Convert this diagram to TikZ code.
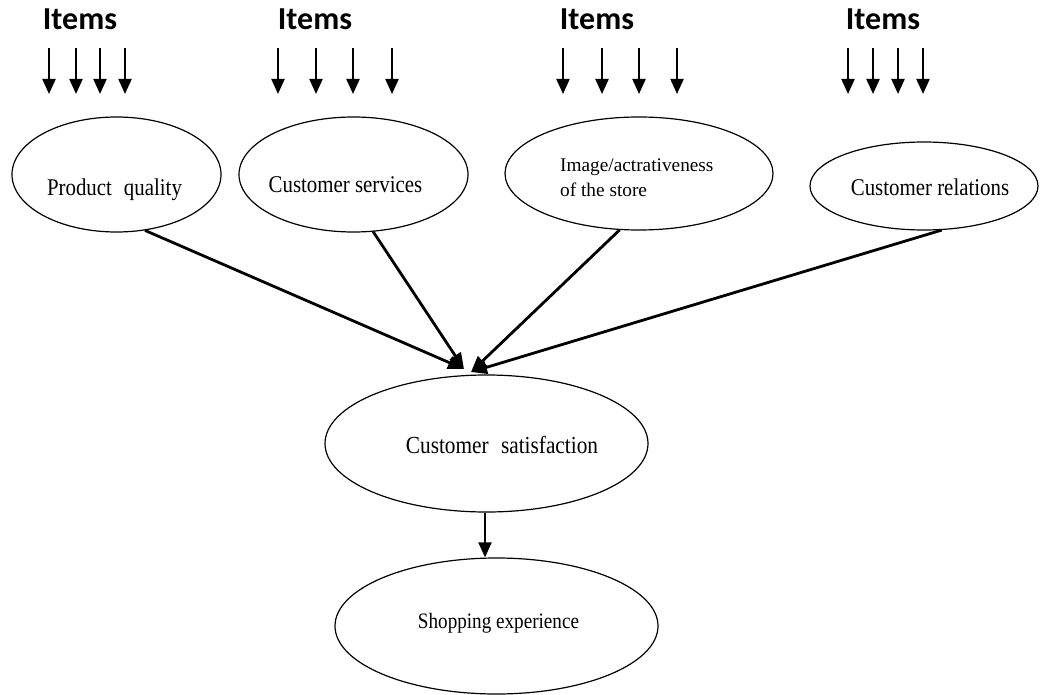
\documentclass[tikz,border=0pt]{standalone}
\usepackage{fontspec}
\setmainfont{Liberation Serif}
\newfontfamily\cond[FakeStretch=0.87]{Liberation Serif}
\newfontfamily\itemfont{Carlito}
\usetikzlibrary{arrows.meta,shapes.geometric}

\begin{document}
\begin{tikzpicture}[x=1pt,y=-1pt,
  oval/.style={draw, ellipse, line width=1.2pt, inner sep=0pt},
  lbl/.style={font=\cond\fontsize{24}{28}\selectfont, inner sep=0pt, anchor=base},
  itemlbl/.style={font=\itemfont\bfseries\fontsize{32}{36}\selectfont, inner sep=0pt, anchor=base},
  itemarrow/.style={line width=2.2pt, -{Triangle[length=15pt,width=13pt]}},
  conn/.style={line width=2.8pt, -{Triangle[length=16pt,width=13pt]}},
  down/.style={line width=2pt, -{Triangle[length=15pt,width=13pt]}}
]
\useasboundingbox (0,0) rectangle (1048,695);

% Items labels and arrows
\node[itemlbl] (it1) at (80,30) {Items};
\node[itemlbl] (it2) at (315,30) {Items};
\node[itemlbl] (it3) at (597,30) {Items};
\node[itemlbl] (it4) at (883,30) {Items};
\foreach \x in {49,76,100,125,278,316,353,392,563,602,639,677,848,873,898,923}
  \draw[itemarrow] (\x,48) -- (\x,94);

% ellipses
\node[oval, minimum width=209pt, minimum height=115pt] (pq) at (116.5,174.5) {};
\node[oval, minimum width=229pt, minimum height=115pt] (sv) at (353.5,174.5) {};
\node[oval, minimum width=268pt, minimum height=113pt] (im) at (639,173.5) {};
\node[oval, minimum width=228pt, minimum height=88pt] (cr) at (924,186) {};
\node[oval, minimum width=323pt, minimum height=137pt] (cs) at (486.5,443.5) {};
\node[oval, minimum width=323pt, minimum height=136pt] (se) at (496.5,626) {};

% texts
\node[lbl] (pqt) at (114.5,195) {Product\hspace{0.5em}quality};
\node[lbl] (svt) at (345.5,192) {Customer services};
\node[font=\fontsize{19.3}{24.5}\selectfont, inner sep=0pt, align=left, anchor=west] (imt) at (560,177.5) {Image/actrativeness\\of the store};
\node[lbl] (crt) at (930,195) {Customer relations};
\node[lbl, font=\cond\fontsize{24.5}{29}\selectfont] (cst) at (502,453) {Customer\hspace{0.5em}satisfaction};
\node[lbl, font=\cond\fontsize{22}{26}\selectfont] (set) at (498.5,628) {Shopping experience};

% connectors
\coordinate (t1) at (464,369);
\coordinate (t2) at (471,372);
\draw[conn] (pq.-63) -- (t1);
\draw[conn] (sv.-71) -- (t1);
\draw[conn] (im.-109) -- (t2);
\draw[conn] (cr.-68) -- (t2);
\draw[down] (cs.south -| 485,0) -- (se.north -| 485,0);
\end{tikzpicture}
\end{document}
